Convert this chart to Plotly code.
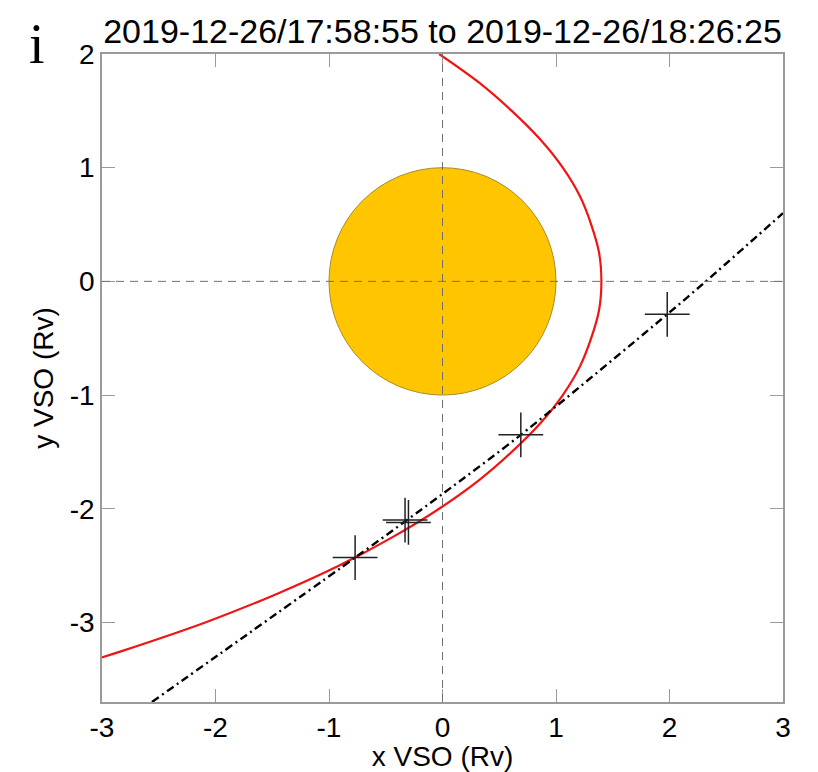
import plotly.graph_objects as go

# Bow shock boundary (Rv), sampled along the curve
shock_x = [-0.03, 0.32, 0.61, 0.86, 1.06, 1.21, 1.31, 1.38, 1.40, 1.38, 1.31, 1.21,
           1.06, 0.86, 0.61, 0.32, -0.03, -0.44, -0.91, -1.46, -2.09, -2.82, -3.01]
shock_y = [2.0, 1.75, 1.5, 1.25, 1.0, 0.75, 0.5, 0.25, 0.0, -0.25, -0.5, -0.75,
           -1.0, -1.25, -1.5, -1.75, -2.0, -2.25, -2.5, -2.75, -3.0, -3.25, -3.31]

# Spacecraft trajectory (Rv)
traj_x = [-2.56, -0.77, 0.0, 0.69, 1.98, 2.32, 3.0]
traj_y = [-3.70, -2.43, -1.87, -1.35, -0.29, 0.0, 0.60]

# Boundary crossing times marked along the orbit
cross_x = [-0.77, -0.33, -0.30, 0.69, 1.98]
cross_y = [-2.43, -2.10, -2.12, -1.35, -0.29]

venus_radius = 1.0

title_text = "2019-12-26/17:58:55 to 2019-12-26/18:26:25"
x_ticks = [-3, -2, -1, 0, 1, 2, 3]
y_ticks = [-3, -2, -1, 0, 1, 2]

axis_gray = "#9a9a9a"
font_family = "Liberation Sans, Arial, sans-serif"

fig = go.Figure()

fig.add_trace(go.Scatter(
    x=shock_x, y=shock_y, mode="lines",
    line=dict(color="#f01414", width=2.2, shape="spline", smoothing=1.0),
    hoverinfo="skip", showlegend=False,
))

fig.add_trace(go.Scatter(
    x=traj_x, y=traj_y, mode="lines",
    line=dict(color="black", width=2.4, dash="8px,4px,2px,4px", shape="spline", smoothing=0.8),
    hoverinfo="skip", showlegend=False,
))

fig.add_trace(go.Scatter(
    x=cross_x, y=cross_y, mode="markers",
    marker=dict(symbol="cross-thin", size=32, line=dict(color="#222222", width=1.5)),
    hoverinfo="skip", showlegend=False,
))

# Venus
fig.add_shape(
    type="circle", xref="x", yref="y",
    x0=-venus_radius, y0=-venus_radius, x1=venus_radius, y1=venus_radius,
    fillcolor="#ffc600", line=dict(color="#a88a2a", width=1), layer="below",
)

# Reference axes through the planet centre
fig.add_shape(type="line", xref="x", yref="paper", x0=0, x1=0, y0=0, y1=1,
              line=dict(color="#707070", width=1, dash="8px,6px"), layer="above")
fig.add_shape(type="line", xref="paper", yref="y", x0=0, x1=1, y0=0, y1=0,
              line=dict(color="#707070", width=1, dash="8px,6px"), layer="above")

fig.add_annotation(
    text="i", xref="paper", yref="paper", x=-0.095, y=1.015,
    xanchor="center", yanchor="middle", showarrow=False,
    font=dict(family="Liberation Serif, Times New Roman, serif", size=56, color="black"),
)

fig.update_layout(
    width=818, height=772,
    margin=dict(l=102, r=35, t=54, b=70, autoexpand=False),
    paper_bgcolor="white", plot_bgcolor="white",
    font=dict(family=font_family, color="black"),
    title=dict(text=title_text, x=0.541, xanchor="center", y=0.96, yanchor="middle",
               font=dict(family=font_family, size=34, color="black")),
    showlegend=False,
)

fig.update_xaxes(
    range=[-3, 3], tickvals=x_ticks, ticktext=[str(v) for v in x_ticks],
    ticks="inside", ticklen=13, tickwidth=1.2, tickcolor=axis_gray,
    showline=True, linecolor=axis_gray, linewidth=1.5, mirror="ticks",
    showgrid=False, zeroline=False, automargin=False,
    tickfont=dict(size=28, family=font_family),
    title=dict(text="x VSO (Rv)", font=dict(size=28, family=font_family), standoff=4),
)
fig.update_yaxes(
    range=[-3.7, 2], tickvals=y_ticks, ticktext=[str(v) for v in y_ticks],
    ticks="inside", ticklen=13, tickwidth=1.2, tickcolor=axis_gray,
    showline=True, linecolor=axis_gray, linewidth=1.5, mirror="ticks",
    showgrid=False, zeroline=False, automargin=False,
    tickfont=dict(size=28, family=font_family),
    title=dict(text="y VSO (Rv)", font=dict(size=28, family=font_family), standoff=8),
)

fig.write_html("out.html")
